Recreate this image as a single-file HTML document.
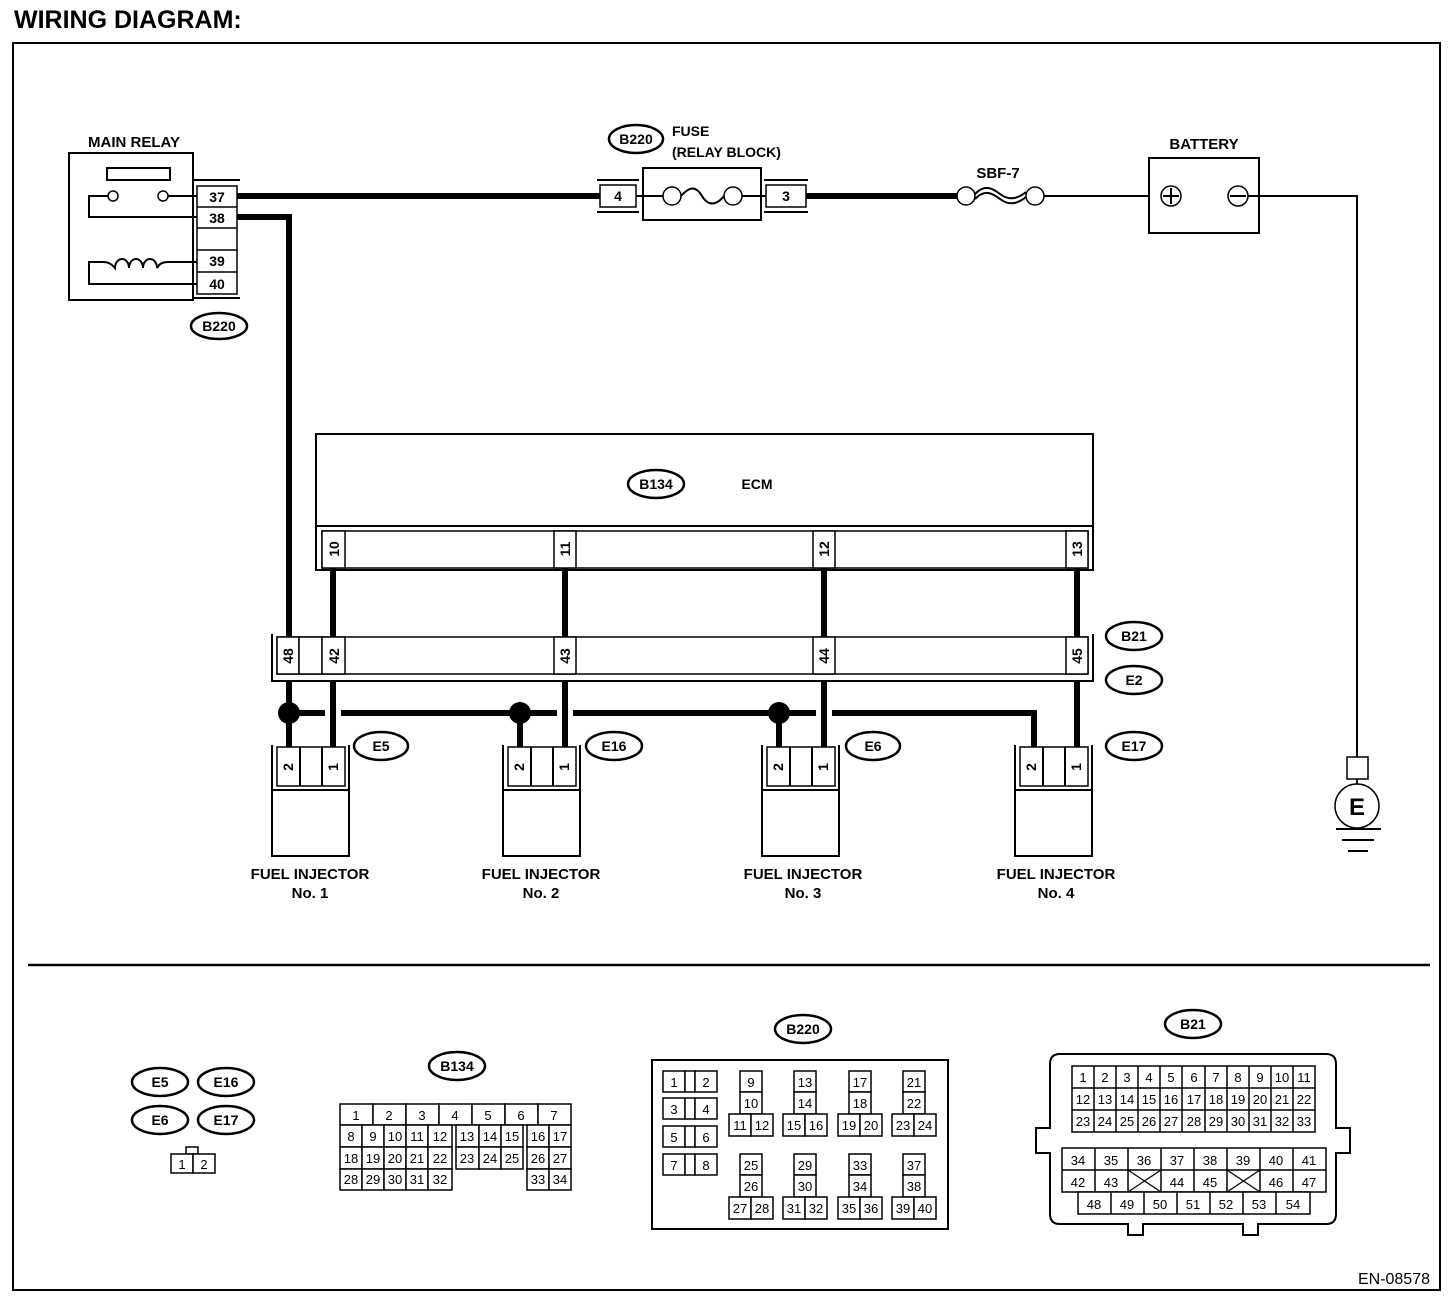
<!DOCTYPE html>
<html><head><meta charset="utf-8"><style>
html,body{margin:0;padding:0;background:#fff;}
svg{display:block;}
text{font-family:"Liberation Sans",Arial,sans-serif;fill:#000;}
.b{font-weight:bold;}
.c{fill:#fff;stroke:#000;stroke-width:1.5;}
.t{fill:none;stroke:#000;stroke-width:2;}
.w{fill:none;stroke:#000;stroke-width:6;}
.e{fill:#fff;stroke:#000;stroke-width:2.5;}
.p{font-weight:bold;font-size:14px;text-anchor:middle;}
.g{font-size:13px;text-anchor:middle;}
.l{font-weight:bold;font-size:15px;text-anchor:middle;}
</style></head><body>
<svg width="1456" height="1300" viewBox="0 0 1456 1300" xmlns="http://www.w3.org/2000/svg">
<text x="14" y="28" class="b" font-size="25">WIRING DIAGRAM:</text>
<rect x="13" y="43" width="1427" height="1247" fill="none" stroke="#000" stroke-width="2"/>
<line x1="28" y1="965" x2="1430" y2="965" stroke="#000" stroke-width="2.5"/>
<text x="1430" y="1284" font-size="16" text-anchor="end">EN-08578</text>

<!-- MAIN RELAY -->
<text x="134" y="147" class="l" font-size="14">MAIN RELAY</text>
<rect x="69" y="153" width="124" height="147" class="t"/>
<rect x="107" y="168" width="63" height="12" class="t"/>
<path d="M193 180 H240 M193 298 H240 M193 180 V298" class="t"/>
<rect x="197" y="186" width="40" height="108" class="c"/>
<line x1="197" y1="207" x2="237" y2="207" stroke="#000" stroke-width="1.5"/>
<line x1="197" y1="228" x2="237" y2="228" stroke="#000" stroke-width="1.5"/>
<line x1="197" y1="250" x2="237" y2="250" stroke="#000" stroke-width="1.5"/>
<line x1="197" y1="272" x2="237" y2="272" stroke="#000" stroke-width="1.5"/>
<text x="217" y="202" class="p">37</text>
<text x="217" y="223" class="p">38</text>
<text x="217" y="266" class="p">39</text>
<text x="217" y="289" class="p">40</text>
<circle cx="113" cy="196" r="5" class="c" stroke-width="2"/>
<circle cx="163" cy="196" r="5" class="c" stroke-width="2"/>
<path d="M108 196 H89 V217 H197 M168 196 H197" class="t"/>
<path d="M197 262 H168 Q160 262 157 268 A7 9 0 1 0 143 268 A7 9 0 1 0 129 268 A7 9 0 1 0 115 268 Q110 262 104 262 H89 V284 H197" class="t"/>
<ellipse cx="219" cy="326" rx="28" ry="13" class="e"/>
<text x="219" y="331" class="p">B220</text>

<!-- wires top -->
<path d="M237 196 H600" class="w"/>
<path d="M237 217 H289 V637" class="w"/>
<path d="M806 196 H957" class="w"/>

<!-- FUSE -->
<ellipse cx="636" cy="139" rx="27" ry="14" class="e"/>
<text x="636" y="144" class="p">B220</text>
<text x="672" y="136" class="b" font-size="14">FUSE</text>
<text x="672" y="157" class="b" font-size="14">(RELAY BLOCK)</text>
<path d="M597 180 H639 M597 212 H639 M764 180 H808 M764 212 H808" class="t"/>
<rect x="600" y="185" width="36" height="22" class="c" stroke-width="2"/>
<text x="618" y="201" class="p">4</text>
<rect x="766" y="185" width="40" height="22" class="c" stroke-width="2"/>
<text x="786" y="201" class="p">3</text>
<rect x="643" y="168" width="118" height="52" class="t"/>
<path d="M636 196 H663 M742 196 H766" class="t"/>
<circle cx="672" cy="196" r="9" class="c" stroke-width="2"/>
<circle cx="733" cy="196" r="9" class="c" stroke-width="2"/>
<path d="M681 196 C690 186 696 186 702 196 C708 206 716 206 724 196" class="t"/>

<!-- SBF-7 -->
<text x="998" y="178" class="l" font-size="14">SBF-7</text>
<circle cx="966" cy="196" r="9" class="c" stroke-width="2"/>
<circle cx="1035" cy="196" r="9" class="c" stroke-width="2"/>
<path d="M975 194 C985 184 992 188 1000 194 C1008 200 1016 200 1026 192 M975 199 C985 189 992 193 1000 199 C1008 205 1016 205 1026 197" class="t" stroke-width="1.5"/>
<path d="M1044 196 H1149" class="t"/>

<!-- BATTERY -->
<text x="1204" y="149" class="l" font-size="14">BATTERY</text>
<rect x="1149" y="158" width="110" height="75" class="t"/>
<circle cx="1171" cy="196" r="10" class="c" stroke-width="2"/>
<path d="M1163 196 H1179 M1171 188 V204" class="t"/>
<circle cx="1238" cy="196" r="10" class="c" stroke-width="2"/>
<path d="M1230 196 H1246" class="t"/>
<path d="M1248 196 H1357 V757" class="t"/>
<rect x="1347" y="757" width="21" height="22" class="c" stroke-width="2"/>
<line x1="1357" y1="779" x2="1357" y2="784" stroke="#000" stroke-width="2"/>
<circle cx="1357" cy="806" r="22" class="c" stroke-width="2"/>
<text x="1357" y="815" class="b" font-size="24" text-anchor="middle">E</text>
<path d="M1336 829 H1381 M1342 840 H1374 M1348 851 H1368" class="t"/>

<!-- ECM -->
<rect x="316" y="434" width="777" height="92" class="t"/>
<path d="M316 526 V570 H1093 V526" class="t"/>
<rect x="322" y="531" width="766" height="37" class="c" stroke-width="2"/>
<ellipse cx="656" cy="484" rx="28" ry="14" class="e"/>
<text x="656" y="489" class="p">B134</text>
<text x="757" y="489" class="p">ECM</text>
<g class="c" stroke-width="2">
<rect x="322" y="531" width="23" height="37"/><rect x="554" y="531" width="22" height="37"/>
<rect x="813" y="531" width="22" height="37"/><rect x="1066" y="531" width="22" height="37"/>
</g>
<g class="p">
<text transform="translate(339 549) rotate(-90)">10</text>
<text transform="translate(570 549) rotate(-90)">11</text>
<text transform="translate(829 549) rotate(-90)">12</text>
<text transform="translate(1082 549) rotate(-90)">13</text>
</g>

<!-- vertical wires -->
<path d="M333 568 V637 M565 568 V637 M824 568 V637 M1077 568 V637" class="w"/>
<path d="M289 682 V747 M333 682 V747 M565 682 V747 M824 682 V747 M1077 682 V747" class="w"/>
<path d="M289 713 H325 M341 713 H557 M573 713 H816 M832 713 H1034 V747 M520 713 V747 M779 713 V747" class="w"/>
<circle cx="289" cy="713" r="11"/><circle cx="520" cy="713" r="11"/><circle cx="779" cy="713" r="11"/>

<!-- B21/E2 connector -->
<path d="M272 634 V681 H1093 V634" class="t"/>
<rect x="277" y="637" width="811" height="37" class="c" stroke-width="2"/>
<g class="c" stroke-width="2">
<rect x="277" y="637" width="22" height="37"/><rect x="299" y="637" width="23" height="37"/>
<rect x="322" y="637" width="23" height="37"/><rect x="554" y="637" width="22" height="37"/>
<rect x="813" y="637" width="22" height="37"/><rect x="1066" y="637" width="22" height="37"/>
</g>
<g class="p">
<text transform="translate(293 656) rotate(-90)">48</text>
<text transform="translate(339 656) rotate(-90)">42</text>
<text transform="translate(570 656) rotate(-90)">43</text>
<text transform="translate(829 656) rotate(-90)">44</text>
<text transform="translate(1082 656) rotate(-90)">45</text>
</g>
<ellipse cx="1134" cy="636" rx="28" ry="14" class="e"/><text x="1134" y="641" class="p">B21</text>
<ellipse cx="1134" cy="680" rx="28" ry="14" class="e"/><text x="1134" y="685" class="p">E2</text>

<!-- injectors -->
<g id="inj">
<path d="M272 745 V790 H349 V745" class="t"/>
<rect x="277" y="747" width="68" height="39" class="c" stroke-width="2"/>
<path d="M300 747 V786 M322 747 V786" class="t"/>
<rect x="272" y="790" width="77" height="66" class="t"/>
<text transform="translate(293 767) rotate(-90)" class="p">2</text>
<text transform="translate(338 767) rotate(-90)" class="p">1</text>
</g>
<use href="#inj" x="231"/>
<use href="#inj" x="490"/>
<use href="#inj" x="743"/>
<ellipse cx="381" cy="746" rx="27" ry="14" class="e"/><text x="381" y="751" class="p">E5</text>
<ellipse cx="614" cy="746" rx="28" ry="14" class="e"/><text x="614" y="751" class="p">E16</text>
<ellipse cx="873" cy="746" rx="27" ry="14" class="e"/><text x="873" y="751" class="p">E6</text>
<ellipse cx="1134" cy="746" rx="28" ry="14" class="e"/><text x="1134" y="751" class="p">E17</text>
<g class="l" font-size="14">
<text x="310" y="879">FUEL INJECTOR</text><text x="310" y="898">No. 1</text>
<text x="541" y="879">FUEL INJECTOR</text><text x="541" y="898">No. 2</text>
<text x="803" y="879">FUEL INJECTOR</text><text x="803" y="898">No. 3</text>
<text x="1056" y="879">FUEL INJECTOR</text><text x="1056" y="898">No. 4</text>
</g>

<!-- bottom: E connectors -->
<ellipse cx="160" cy="1082" rx="28" ry="14" class="e"/><text x="160" y="1087" class="p">E5</text>
<ellipse cx="226" cy="1082" rx="28" ry="14" class="e"/><text x="226" y="1087" class="p">E16</text>
<ellipse cx="160" cy="1120" rx="28" ry="14" class="e"/><text x="160" y="1125" class="p">E6</text>
<ellipse cx="226" cy="1120" rx="28" ry="14" class="e"/><text x="226" y="1125" class="p">E17</text>
<rect x="186" y="1147" width="12" height="7" class="c"/>
<rect x="171" y="1154" width="22" height="19" class="c"/><rect x="193" y="1154" width="22" height="19" class="c"/>
<text x="182" y="1169" class="g" font-size="14">1</text><text x="204" y="1169" class="g" font-size="14">2</text>

<!-- B134 grid -->
<ellipse cx="457" cy="1066" rx="28" ry="14" class="e"/><text x="457" y="1071" class="p">B134</text>
<g class="c">
<rect x="340" y="1104" width="33" height="21"/><rect x="373" y="1104" width="33" height="21"/><rect x="406" y="1104" width="33" height="21"/><rect x="439" y="1104" width="33" height="21"/><rect x="472" y="1104" width="33" height="21"/><rect x="505" y="1104" width="33" height="21"/><rect x="538" y="1104" width="33" height="21"/>
<rect x="340" y="1125" width="22" height="22"/><rect x="362" y="1125" width="22" height="22"/><rect x="384" y="1125" width="22" height="22"/><rect x="406" y="1125" width="22" height="22"/><rect x="428" y="1125" width="24" height="22"/>
<rect x="456" y="1125" width="23" height="22"/><rect x="479" y="1125" width="22" height="22"/><rect x="501" y="1125" width="22" height="22"/>
<rect x="527" y="1125" width="22" height="22"/><rect x="549" y="1125" width="22" height="22"/>
<rect x="340" y="1147" width="22" height="22"/><rect x="362" y="1147" width="22" height="22"/><rect x="384" y="1147" width="22" height="22"/><rect x="406" y="1147" width="22" height="22"/><rect x="428" y="1147" width="24" height="22"/>
<rect x="456" y="1147" width="23" height="22"/><rect x="479" y="1147" width="22" height="22"/><rect x="501" y="1147" width="22" height="22"/>
<rect x="527" y="1147" width="22" height="22"/><rect x="549" y="1147" width="22" height="22"/>
<rect x="340" y="1169" width="22" height="21"/><rect x="362" y="1169" width="22" height="21"/><rect x="384" y="1169" width="22" height="21"/><rect x="406" y="1169" width="22" height="21"/><rect x="428" y="1169" width="24" height="21"/>
<rect x="527" y="1169" width="22" height="21"/><rect x="549" y="1169" width="22" height="21"/>
</g>
<g class="g" font-size="14">
<text x="356" y="1120">1</text><text x="389" y="1120">2</text><text x="422" y="1120">3</text><text x="455" y="1120">4</text><text x="488" y="1120">5</text><text x="521" y="1120">6</text><text x="554" y="1120">7</text>
</g>
<g class="g">
<text x="351" y="1141">8</text><text x="373" y="1141">9</text><text x="395" y="1141">10</text><text x="417" y="1141">11</text><text x="440" y="1141">12</text><text x="467" y="1141">13</text><text x="490" y="1141">14</text><text x="512" y="1141">15</text><text x="538" y="1141">16</text><text x="560" y="1141">17</text>
<text x="351" y="1163">18</text><text x="373" y="1163">19</text><text x="395" y="1163">20</text><text x="417" y="1163">21</text><text x="440" y="1163">22</text><text x="467" y="1163">23</text><text x="490" y="1163">24</text><text x="512" y="1163">25</text><text x="538" y="1163">26</text><text x="560" y="1163">27</text>
<text x="351" y="1184">28</text><text x="373" y="1184">29</text><text x="395" y="1184">30</text><text x="417" y="1184">31</text><text x="440" y="1184">32</text><text x="538" y="1184">33</text><text x="560" y="1184">34</text>
</g>

<!-- B220 grid -->
<ellipse cx="803" cy="1029" rx="28" ry="14" class="e"/><text x="803" y="1034" class="p">B220</text>
<rect x="652" y="1060" width="296" height="169" class="t"/>
<g id="pair" class="c">
<rect x="663" y="1071" width="22" height="21"/><rect x="685" y="1071" width="10" height="21"/><rect x="695" y="1071" width="22" height="21"/>
</g>
<use href="#pair" y="27"/><use href="#pair" y="55"/><use href="#pair" y="83"/>
<g class="g" font-size="14">
<text x="674" y="1087">1</text><text x="706" y="1087">2</text>
<text x="674" y="1114">3</text><text x="706" y="1114">4</text>
<text x="674" y="1142">5</text><text x="706" y="1142">6</text>
<text x="674" y="1170">7</text><text x="706" y="1170">8</text>
</g>
<g id="stk" class="c">
<rect x="740" y="1071" width="22" height="21"/><rect x="740" y="1092" width="22" height="22"/>
<rect x="729" y="1114" width="22" height="22"/><rect x="751" y="1114" width="22" height="22"/>
</g>
<use href="#stk" x="54"/><use href="#stk" x="109"/><use href="#stk" x="163"/>
<use href="#stk" y="83"/><use href="#stk" x="54" y="83"/><use href="#stk" x="109" y="83"/><use href="#stk" x="163" y="83"/>
<g class="g" font-size="14">
<text x="751" y="1087">9</text><text x="751" y="1108">10</text><text x="740" y="1130">11</text><text x="762" y="1130">12</text>
<text x="805" y="1087">13</text><text x="805" y="1108">14</text><text x="794" y="1130">15</text><text x="816" y="1130">16</text>
<text x="860" y="1087">17</text><text x="860" y="1108">18</text><text x="849" y="1130">19</text><text x="871" y="1130">20</text>
<text x="914" y="1087">21</text><text x="914" y="1108">22</text><text x="903" y="1130">23</text><text x="925" y="1130">24</text>
<text x="751" y="1170">25</text><text x="751" y="1191">26</text><text x="740" y="1213">27</text><text x="762" y="1213">28</text>
<text x="805" y="1170">29</text><text x="805" y="1191">30</text><text x="794" y="1213">31</text><text x="816" y="1213">32</text>
<text x="860" y="1170">33</text><text x="860" y="1191">34</text><text x="849" y="1213">35</text><text x="871" y="1213">36</text>
<text x="914" y="1170">37</text><text x="914" y="1191">38</text><text x="903" y="1213">39</text><text x="925" y="1213">40</text>
</g>

<!-- B21 grid -->
<ellipse cx="1193" cy="1024" rx="28" ry="14" class="e"/><text x="1193" y="1029" class="p">B21</text>
<path d="M1060 1054 H1326 Q1336 1054 1336 1064 V1128 H1350 V1153 H1336 V1214 Q1336 1224 1326 1224 H1258 V1235 H1243 V1224 H1143 V1235 H1128 V1224 H1060 Q1050 1224 1050 1214 V1153 H1036 V1128 H1050 V1064 Q1050 1054 1060 1054 Z" class="t" stroke-width="1.5"/>
<rect x="1072" y="1066" width="243" height="66" class="c"/>
<path d="M1094 1066 V1132 M1116 1066 V1132 M1138 1066 V1132 M1160 1066 V1132 M1182 1066 V1132 M1205 1066 V1132 M1227 1066 V1132 M1249 1066 V1132 M1271 1066 V1132 M1293 1066 V1132 M1072 1088 H1315 M1072 1110 H1315" stroke="#000" stroke-width="1.5"/>
<g class="g" font-size="14">
<text x="1083" y="1082">1</text><text x="1105" y="1082">2</text><text x="1127" y="1082">3</text><text x="1149" y="1082">4</text><text x="1171" y="1082">5</text><text x="1194" y="1082">6</text><text x="1216" y="1082">7</text><text x="1238" y="1082">8</text><text x="1260" y="1082">9</text><text x="1282" y="1082">10</text><text x="1304" y="1082">11</text>
<text x="1083" y="1104">12</text><text x="1105" y="1104">13</text><text x="1127" y="1104">14</text><text x="1149" y="1104">15</text><text x="1171" y="1104">16</text><text x="1194" y="1104">17</text><text x="1216" y="1104">18</text><text x="1238" y="1104">19</text><text x="1260" y="1104">20</text><text x="1282" y="1104">21</text><text x="1304" y="1104">22</text>
<text x="1083" y="1126">23</text><text x="1105" y="1126">24</text><text x="1127" y="1126">25</text><text x="1149" y="1126">26</text><text x="1171" y="1126">27</text><text x="1194" y="1126">28</text><text x="1216" y="1126">29</text><text x="1238" y="1126">30</text><text x="1260" y="1126">31</text><text x="1282" y="1126">32</text><text x="1304" y="1126">33</text>
</g>
<rect x="1062" y="1148" width="264" height="44" class="c"/>
<path d="M1095 1148 V1192 M1128 1148 V1192 M1161 1148 V1192 M1194 1148 V1192 M1227 1148 V1192 M1260 1148 V1192 M1293 1148 V1192 M1062 1170 H1326" stroke="#000" stroke-width="1.5"/>
<path d="M1128 1170 L1161 1192 M1161 1170 L1128 1192 M1227 1170 L1260 1192 M1260 1170 L1227 1192" stroke="#000" stroke-width="1.2"/>
<rect x="1078" y="1192" width="232" height="22" class="c"/>
<path d="M1111 1192 V1214 M1144 1192 V1214 M1177 1192 V1214 M1210 1192 V1214 M1243 1192 V1214 M1276 1192 V1214" stroke="#000" stroke-width="1.5"/>
<g class="g" font-size="14">
<text x="1078" y="1165">34</text><text x="1111" y="1165">35</text><text x="1144" y="1165">36</text><text x="1177" y="1165">37</text><text x="1210" y="1165">38</text><text x="1243" y="1165">39</text><text x="1276" y="1165">40</text><text x="1309" y="1165">41</text>
<text x="1078" y="1187">42</text><text x="1111" y="1187">43</text><text x="1177" y="1187">44</text><text x="1210" y="1187">45</text><text x="1276" y="1187">46</text><text x="1309" y="1187">47</text>
<text x="1094" y="1209">48</text><text x="1127" y="1209">49</text><text x="1160" y="1209">50</text><text x="1193" y="1209">51</text><text x="1226" y="1209">52</text><text x="1259" y="1209">53</text><text x="1293" y="1209">54</text>
</g>
</svg>
</body></html>
